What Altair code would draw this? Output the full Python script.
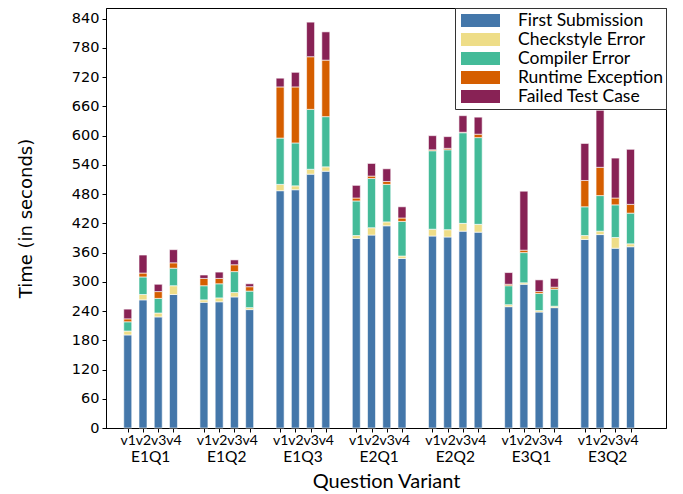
import altair as alt
import pandas as pd

groups = ["E1Q1", "E1Q2", "E1Q3", "E2Q1", "E2Q2", "E3Q1", "E3Q2"]
variants = ["v1", "v2", "v3", "v4"]
series = ["First Submission", "Checkstyle Error", "Compiler Error",
          "Runtime Exception", "Failed Test Case"]
colors = ["#4477AA", "#EEDD88", "#44BB99", "#D55E00", "#882255"]

# values per bar, ordered group by group, v1..v4 inside each group
first_submission = [191, 263, 228, 274, 258, 259, 269, 243, 487, 489, 521, 527,
                    389, 396, 415, 348, 394, 392, 404, 402, 249, 295, 238, 247,
                    387, 397, 369, 372]
checkstyle_error = [8, 11, 8, 18, 5, 8, 9, 4, 13, 8, 10, 9,
                    6, 15, 8, 5, 14, 15, 16, 16, 4, 3, 3, 3,
                    8, 7, 22, 6]
compiler_error = [19, 36, 30, 36, 29, 29, 43, 34, 95, 88, 123, 103,
                  71, 101, 77, 71, 161, 164, 186, 178, 39, 62, 35, 35,
                  59, 73, 67, 63]
runtime_exception = [6, 8, 14, 11, 15, 11, 14, 9, 105, 115, 108, 116,
                     6, 5, 6, 7, 2, 3, 1, 7, 3, 5, 4, 4,
                     54, 58, 14, 18]
failed_test_case = [20, 37, 15, 27, 7, 13, 10, 6, 18, 30, 71, 58,
                    26, 26, 26, 23, 29, 24, 34, 35, 24, 121, 24, 18,
                    76, 117, 82, 113]

all_series = [first_submission, checkstyle_error, compiler_error,
              runtime_exception, failed_test_case]

rows = []
for g, grp in enumerate(groups):
    for i, var in enumerate(variants):
        k = g * len(variants) + i
        for s, name in enumerate(series):
            rows.append({"group": grp, "variant": var, "pos": g * 5 + i,
                         "series": name, "order": s, "value": all_series[s][k]})
df = pd.DataFrame(rows)

gdf = pd.DataFrame({"group": groups, "pos": [g * 5 + 1.5 for g in range(len(groups))]})
tick_positions = [g * 5 + i for g in range(len(groups)) for i in range(len(variants))]

xscale = alt.Scale(domain=[-1.1, 35.0], nice=False, zero=False)
xaxis = alt.Axis(values=tick_positions, labelExpr="'v' + (datum.value % 5 + 1)",
                 title="Question Variant", grid=False, labelOverlap=False,
                 labelFlush=False, labelFont="Lato", labelFontSize=14,
                 labelColor="black", labelPadding=1, tickSize=4,
                 tickColor="black", domainColor="black",
                 titleFont="Lato", titleFontSize=20, titleFontWeight="normal",
                 titleColor="black", titlePadding=24)

bars = alt.Chart(df).mark_bar(width=8, stroke="white", strokeWidth=1, strokeOpacity=0.6).encode(
    x=alt.X("pos:Q", scale=xscale, axis=xaxis),
    y=alt.Y("value:Q", stack="zero", scale=alt.Scale(domain=[0, 862], nice=False),
            axis=alt.Axis(values=list(range(0, 841, 60)), title="Time (in seconds)",
                          grid=False, labelFont="DejaVu Sans", labelFontSize=14.5,
                          labelColor="black", tickSize=4, tickColor="black",
                          domainColor="black", labelPadding=3,
                          titleFont="DejaVu Sans", titleFontSize=18,
                          titleFontWeight="normal", titleColor="black", titlePadding=36)),
    color=alt.Color("series:N", sort=series,
                    scale=alt.Scale(domain=series, range=colors),
                    legend=alt.Legend(title=None, orient="top-right", offset=0,
                                      padding=3, strokeColor="#333", fillColor="white",
                                      symbolType="M-1,-0.333L1,-0.333L1,0.333L-1,0.333Z",
                                      symbolSize=1521, symbolOffset=3, symbolStrokeWidth=0,
                                      clipHeight=19, rowPadding=0,
                                      labelFont="Lato", labelFontSize=17.5,
                                      labelColor="black", labelOffset=18, labelLimit=250)),
    order=alt.Order("order:Q", sort="ascending"),
)

glabels = alt.Chart(gdf).mark_text(font="Lato", fontSize=15.5, baseline="middle",
                                   color="black").encode(
    x=alt.X("pos:Q", scale=xscale, axis=xaxis),
    y=alt.value(449),
    text="group:N",
)

chart = alt.layer(bars, glabels).properties(
    width=560, height=420,
    autosize=alt.AutoSizeParams(type="none"),
    padding={"left": 98, "top": 0, "right": 9, "bottom": 66},
).configure_view(stroke="black", strokeWidth=1)

chart.save("out.html", embed_options={"renderer": "svg", "actions": False})
